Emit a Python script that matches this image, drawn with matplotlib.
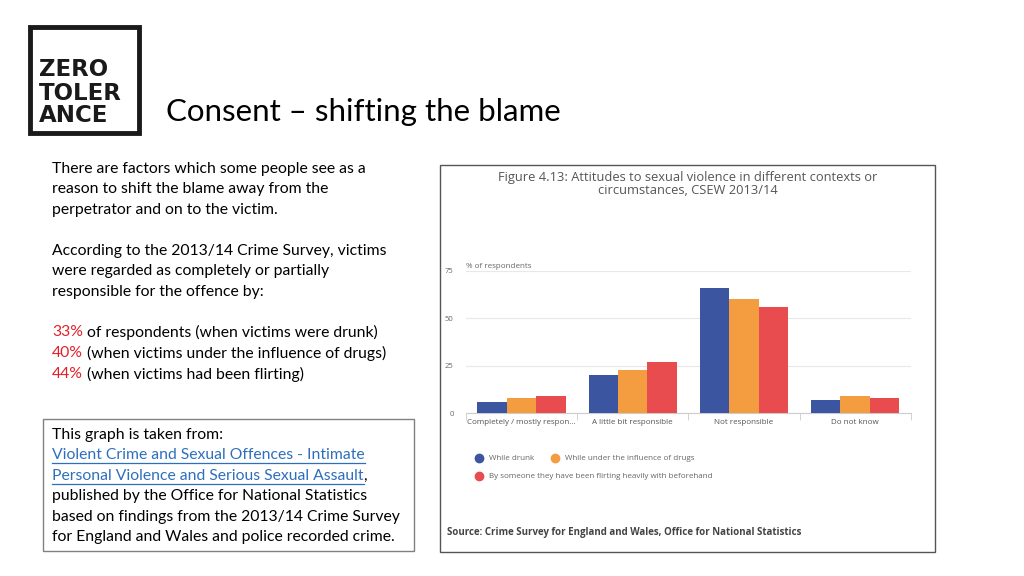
import matplotlib
matplotlib.use("Agg")
import numpy as np
import matplotlib.pyplot as plt
from matplotlib.lines import Line2D
from matplotlib.patches import Rectangle

# --------------------------------------------------
# DATA
# --------------------------------------------------
categories = ["Completely / mostly respon...", "A little bit responsible",
              "Not responsible", "Do not know"]
series_names = ["While drunk", "While under the influence of drugs",
                "By someone they have been flirting heavily with beforehand"]
while_drunk = [6, 20, 66, 7]
while_drugs = [8, 23, 60, 9]
while_flirting = [9, 27, 56, 8]
y_ticks = [0, 25, 50, 75]

colors = ["#3b55a0", "#f49c40", "#e84c4f"]
SLIDE_FONT = "Lato"
CHART_FONT = "Open Sans"
BODY_SIZE = 11.3

W, H = 1024, 576
fig = plt.figure(figsize=(W / 100, H / 100), dpi=100)
fig.patch.set_facecolor("white")


def fx(x):
    return x / W


def fy(y):
    return 1 - y / H


def add_box(x0, y0, x1, y1, color, lw):
    fig.patches.append(Rectangle((fx(x0), fy(y1)), fx(x1) - fx(x0), fy(y0) - fy(y1),
                                 transform=fig.transFigure, fill=False,
                                 edgecolor=color, linewidth=lw))


# --------------------------------------------------
# LOGO AND TITLE
# --------------------------------------------------
add_box(30, 27, 139, 133, "#1a1a1a", 3.5)
fig.text(fx(39), fy(93), "ZERO\nTOLER\nANCE", fontsize=16.5, fontweight="bold",
         family="DejaVu Sans", color="#1a1a1a", va="center", ha="left",
         linespacing=1.0)

fig.text(fx(166), fy(112), "Consent \u2013 shifting the blame", fontsize=22.5,
         family=SLIDE_FONT, color="black", va="center", ha="left")

# --------------------------------------------------
# LEFT TEXT
# --------------------------------------------------
left_lines = [
    (169, "There are factors which some people see as a"),
    (189, "reason to shift the blame away from the"),
    (210, "perpetrator and on to the victim."),
    (251, "According to the 2013/14 Crime Survey, victims"),
    (271, "were regarded as completely or partially"),
    (292, "responsible for the offence by:"),
]
for y, line in left_lines:
    fig.text(fx(52), fy(y), line, fontsize=BODY_SIZE, family=SLIDE_FONT, va="center")

renderer = fig.canvas.get_renderer()
inv = fig.transFigure.inverted()

pct_lines = [
    (332, "33%", " of respondents (when victims were drunk)"),
    (353, "40%", " (when victims under the influence of drugs)"),
    (374, "44%", " (when victims had been flirting)"),
]
for y, pct, rest in pct_lines:
    t = fig.text(fx(52), fy(y), pct, fontsize=BODY_SIZE, family=SLIDE_FONT,
                 color="#e3202a", va="center")
    bb = t.get_window_extent(renderer)
    x_end = inv.transform((bb.x1, bb.y0))[0]
    fig.text(x_end, fy(y), rest, fontsize=BODY_SIZE, family=SLIDE_FONT, va="center")

# source box
add_box(43, 419, 414, 551, "#808080", 1.0)
fig.text(fx(52), fy(435), "This graph is taken from:", fontsize=BODY_SIZE,
         family=SLIDE_FONT, va="center")
link_color = "#2e6fbd"
for y, line in [(455, "Violent Crime and Sexual Offences - Intimate"),
                (476, "Personal Violence and Serious Sexual Assault")]:
    t = fig.text(fx(52), fy(y), line, fontsize=BODY_SIZE, family=SLIDE_FONT,
                 color=link_color, va="center")
    bb = t.get_window_extent(renderer)
    x0, _ = inv.transform((bb.x0, bb.y0))
    x1, _ = inv.transform((bb.x1, bb.y0))
    fig.lines.append(Line2D([x0, x1], [fy(y + 8), fy(y + 8)],
                            transform=fig.transFigure, color=link_color, lw=0.9))
    if line.endswith("Assault"):
        fig.text(x1, fy(y), ",", fontsize=BODY_SIZE, family=SLIDE_FONT, va="center")

for i, line in enumerate(["published by the Office for National Statistics",
                          "based on findings from the 2013/14 Crime Survey",
                          "for England and Wales and police recorded crime."]):
    fig.text(fx(52), fy(496 + i * 20.5), line, fontsize=BODY_SIZE,
             family=SLIDE_FONT, va="center")

# --------------------------------------------------
# CHART PANEL
# --------------------------------------------------
add_box(440, 165, 935, 552, "#555555", 1.0)
fig.text(fx(688), fy(184), "Figure 4.13: Attitudes to sexual violence in different contexts or\n"
         "circumstances, CSEW 2013/14", fontsize=9.3, family=CHART_FONT,
         color="#555555", ha="center", va="center", linespacing=1.05)

ax = fig.add_axes([fx(466), fy(413.3), fx(910.7) - fx(466), fy(270.7) - fy(413.3)])
x = np.arange(len(categories))
bw = 0.265
for i, vals in enumerate([while_drunk, while_drugs, while_flirting]):
    ax.bar(x + (i - 1) * bw, vals, width=bw, color=colors[i], zorder=3)

ax.set_xlim(-0.5, len(categories) - 0.5)
ax.set_ylim(0, 75)
ax.set_yticks(y_ticks)
ax.set_yticklabels([str(v) for v in y_ticks], fontsize=5.5, family=CHART_FONT,
                   color="#666666")
ax.yaxis.grid(True, color="#e8e8e8", lw=0.8, zorder=0)
ax.tick_params(axis="y", length=0, pad=9)
for side in ["top", "right", "left"]:
    ax.spines[side].set_visible(False)
ax.spines["bottom"].set_color("#cccccc")
ax.set_xticks(x)
ax.set_xticklabels(categories, fontsize=5.8, family=CHART_FONT, color="#555555")
ax.tick_params(axis="x", length=0, pad=4)
ax.set_xticks(np.arange(len(categories) + 1) - 0.5, minor=True)
ax.tick_params(axis="x", which="minor", length=5, color="#cccccc")
ax.text(0, 1.03, "% of respondents", transform=ax.transAxes, fontsize=5.8,
        family=CHART_FONT, color="#666666", va="center", ha="left")

# legend
legend_items = [(479, 458, 0), (555, 458, 1), (479, 476, 2)]
for lx, ly, idx in legend_items:
    fig.lines.append(Line2D([fx(lx)], [fy(ly)], transform=fig.transFigure,
                            marker="o", markersize=6, color=colors[idx], lw=0))
    fig.text(fx(lx + 10), fy(ly), series_names[idx], fontsize=5.8,
             family=CHART_FONT, color="#666666", va="center", ha="left")

fig.text(fx(447), fy(533), "Source: Crime Survey for England and Wales, Office for National Statistics",
         fontsize=7, fontweight="bold", family=CHART_FONT, color="#444444",
         va="center", ha="left")

fig.savefig("out.png", dpi=100)
